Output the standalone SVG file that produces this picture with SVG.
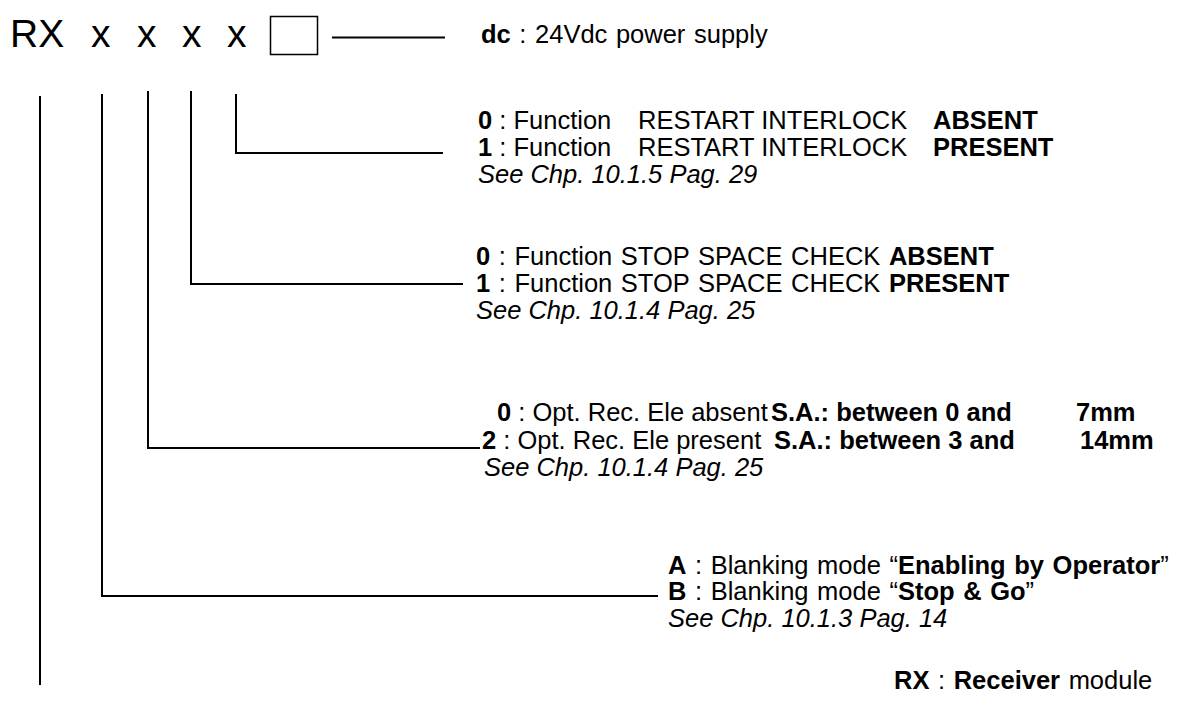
<svg xmlns="http://www.w3.org/2000/svg" width="1193" height="708" viewBox="0 0 1193 708">
<style>
.t{font-family:"Liberation Sans",Arial,sans-serif;font-size:25.5px;fill:#000}
.w{word-spacing:1.5px}
.b{font-weight:bold}
.i{font-style:italic}
.big{font-family:"Liberation Sans",Arial,sans-serif;font-size:39px;fill:#000}
.ln{stroke:#000;stroke-width:2;fill:none}
</style>
<rect width="1193" height="708" fill="#fff"/>
<g id="code">
<text class="big" x="10" y="47">RX</text>
<text class="big" x="91" y="47">x</text>
<text class="big" x="137" y="47">x</text>
<text class="big" x="182" y="47">x</text>
<text class="big" x="227" y="47">x</text>
<rect x="270.5" y="16.5" width="47" height="38" fill="none" stroke="#000" stroke-width="1.5"/>
</g>
<g id="connectors">
<path class="ln" d="M332 37.5H445"/>
<path class="ln" d="M236 94V153H443"/>
<path class="ln" d="M191 91V284H463"/>
<path class="ln" d="M148 91V448H480"/>
<path class="ln" d="M102 94V596H658"/>
<path class="ln" d="M40 96V685"/>
</g>
<g id="dc">
<text class="t w" x="481" y="43"><tspan class="b">dc</tspan> : 24Vdc power supply</text>
</g>
<g id="restart">
<text class="t" x="478" y="129"><tspan class="b">0</tspan> : Function<tspan x="638">RESTART INTERLOCK</tspan><tspan x="933" class="b">ABSENT</tspan></text>
<text class="t" x="478" y="156"><tspan class="b">1</tspan> : Function<tspan x="638">RESTART INTERLOCK</tspan><tspan x="933" class="b">PRESENT</tspan></text>
<text class="t i" x="478" y="183">See Chp. 10.1.5 Pag. 29</text>
</g>
<g id="stopspace">
<text class="t w" x="476" y="265"><tspan class="b">0</tspan> : Function STOP SPACE CHECK <tspan class="b">ABSENT</tspan></text>
<text class="t w" x="476" y="292"><tspan class="b">1</tspan> : Function STOP SPACE CHECK <tspan class="b">PRESENT</tspan></text>
<text class="t i" x="476" y="319">See Chp. 10.1.4 Pag. 25</text>
</g>
<g id="optrec">
<text class="t" x="497" y="421"><tspan class="b">0</tspan> : Opt. Rec. Ele absent<tspan x="771" class="b">S.A.: between 0 and</tspan><tspan x="1076" class="b">7mm</tspan></text>
<text class="t" x="482" y="449"><tspan class="b">2</tspan> : Opt. Rec. Ele present<tspan x="774" class="b">S.A.: between 3 and</tspan><tspan x="1080" class="b">14mm</tspan></text>
<text class="t i" x="484" y="476">See Chp. 10.1.4 Pag. 25</text>
</g>
<g id="blanking">
<text class="t w" x="668" y="574"><tspan class="b">A</tspan> : Blanking mode “<tspan class="b">Enabling by Operator</tspan>”</text>
<text class="t w" x="668" y="600"><tspan class="b">B</tspan> : Blanking mode “<tspan class="b">Stop &amp; Go</tspan>”</text>
<text class="t i" x="668" y="627">See Chp. 10.1.3 Pag. 14</text>
</g>
<g id="rx">
<text class="t w" x="894" y="689"><tspan class="b">RX</tspan> : <tspan class="b">Receiver</tspan> module</text>
</g>
</svg>
